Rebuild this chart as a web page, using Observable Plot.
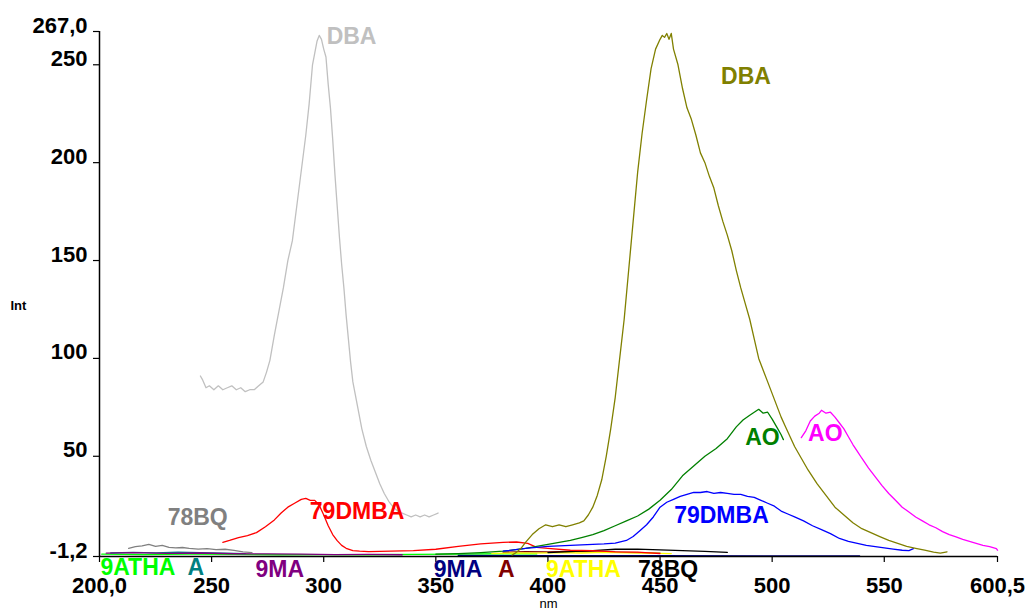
<!DOCTYPE html>
<html><head><meta charset="utf-8">
<script src="https://cdn.jsdelivr.net/npm/d3@7"></script>
<script src="https://cdn.jsdelivr.net/npm/@observablehq/plot@0.6"></script>
<style>body{margin:0;background:#fff} #chart svg{display:block}</style>
</head><body><div id="chart"></div>
<script>
// Axis ticks
const xTicks = [200, 250, 300, 350, 400, 450, 500, 550, 600.5];
const xTickLabels = ["200,0", "250", "300", "350", "400", "450", "500", "550", "600,5"];
const yTicks = [-1.2, 50, 100, 150, 200, 250, 267];
const yTickLabels = ["-1,2", "50", "100", "150", "200", "250", "267,0"];

// DBA excitation (light grey)
const dbaExX = [245,246,247.5,249,251,253,255,257,259,261,263,265,267,269,271,273,274.5,276,278,280,282,284,286,288,290,292,293.5,295,296,297,298,299,300,301,302,303,304,305,306,307,308,309,310,311,312,313,314,315,317,319,321,323,325,327,329,331,333,335,337,339,341,343,345,347,349,351];
const dbaExY = [91,89,85,86,84,86,84,85,86,84,85,83,84,84,86,88,93,99,112,124,136,150,160,178,196,214,230,250,256,262,265,263,258,254,240,228,212,194,178,162,148,136,122,110,98,88,82,76,64,55,48,42,36,31,27,24,22,21,20,19,20,19,20,19,20,21];
// DBA emission (olive)
const dbaEmX = [384,386,388,390,393,396,399,402,405,408,411,414,416,418,420,422,424,426,428,430,432,434,436,438,440,442,444,446,448,450,451,452,453,454,455,456,458,460,462,464,466,468,470,472,474,476,478,480,482,484,486,488,490,492,494,496,498,500,502,504,506,508,510,513,516,520,524,528,532,536,540,544,548,552,556,560,564,568,572,575,578];
const dbaEmY = [-0.5,1,3,6,10,13,15,14,15,14,15,16,17,20,24,30,38,50,64,80,100,120,145,170,195,215,232,248,258,263,265,264,266,263,266,258,250,238,228,222,214,205,200,193,187,178,170,163,155,145,136,128,120,110,100,94,88,82,76,70,65,60,55,49,43,36,30,24,20,16,13,11,9,7,5.5,4,3,2,1,0.5,1.2];
// AO excitation (green)
const aoExX = [350,360,370,380,390,400,410,415,420,425,430,435,440,445,450,455,460,465,470,475,480,484,487,490,492,494,496,498,500,502,504,505];
const aoExY = [0,0.3,0.8,1.5,3,5,7,8.5,10,12,14.5,17,19.5,23,27.5,33,40,45,50,54,59,65,68.5,71,72.5,74,72,72.5,69,65,61,58.5];
// AO emission (magenta)
const aoEmX = [513,515,517,519,521,522,524,526,528,530,532,534,536,538,540,543,546,549,552,555,558,561,564,567,570,573,576,579,582,585,588,591,594,597,600,600.5];
const aoEmY = [59.5,63,68,70.5,72,73.5,72,72.5,70,67,64,60,56,52.5,49,44,39.5,35,31,27.5,24,21.5,19,17,15,13.5,11.5,10,8.8,7.5,6.5,5.5,4.5,3.8,2.8,2];
// 79DMBA emission (blue)
const dmbaEmX = [380,390,400,410,420,425,430,435,438,441,444,447,450,453,456,459,462,465,468,471,474,477,480,483,486,489,492,495,498,501,504,507,510,514,518,522,526,530,534,538,542,546,550,554,558,561,563];
const dmbaEmY = [1.5,3,4,4.5,5,5.2,5.6,7,9,12,15,19,24,26.5,28,29.5,30.5,31.5,31.5,32,31,31.5,31,30.5,30.5,29.5,29,27.5,26,24.5,22,20.5,19,17,14.5,12.5,10.5,8,6.5,5.5,4.5,3.8,3.2,2.6,2,1.8,2.8];
// 79DMBA excitation (red)
const dmbaExX = [255,258,262,266,270,274,278,281,284,287,290,292,294,296,298,300,302,304,306,308,310,313,316,320,330,340,350,360,370,380,386,391,395,400,410,420,430,440,450];
const dmbaExY = [6,7,8.5,9.5,11,14,17.5,21,24,26,28,28.5,27.5,27.5,25,20,14.5,10,6.9,4.5,3,1.8,1.5,1.3,1.5,1.8,2.5,4,5.2,6,6.2,5.5,3.5,3,2,1.8,1.2,1,0.3];
// 78BQ excitation (grey) and emission (black)
const bqExX = [213,216,219,222,225,228,231,234,237,240,244,248,252,256,260,264,268];
const bqExY = [3,3.8,4.2,5,4,4.5,3.5,3.2,3.4,3,2.6,2.8,2.3,2.5,1.9,1.2,0.8];
const bqEmX = [400,410,420,430,440,450,460,470,480];
const bqEmY = [0.8,1.3,1.8,2.5,2.6,2.2,1.8,1.4,0.9];
// 9MA excitation (purple) and emission (navy)
const maExX = [203,215,230,245,260,275,290,305,320,335];
const maExY = [0.5,0.8,0.4,0.6,0.2,0.1,0,-0.2,-0.1,-0.3];
const maEmX = [360,400,450,500,539];
const maEmY = [-0.7,-0.8,-0.8,-0.9,-0.9];
// A excitation (teal) and emission (maroon)
const aExX = [205,215,225,235,245,255,265];
const aExY = [0.6,0.9,0.7,1.0,0.8,0.5,0.3];
const aEmX = [380,390,400,410,420,430,440,450];
const aEmY = [1.0,1.3,1.1,1.4,1.2,1.0,0.8,0.5];
// 9ATHA excitation (bright green) and emission (yellow)
const athaExX = [201,220,240,260,280,300,320,340,360,380,395];
const athaExY = [0,-0.2,0,-0.1,-0.3,-0.2,-0.3,-0.1,0,0.2,0.1];
const athaEmX = [375,385,395,405,415,425,435,445,455];
const athaEmY = [0.4,0.6,0.5,0.8,0.6,0.9,0.7,0.5,0.3];

// Series labels (text, x, y in data units)
const labelTexts = ["DBA","DBA","AO","AO","79DMBA","79DMBA","78BQ","9ATHA","A","9MA","9MA","A","9ATHA","78BQ"];
const labelX = [301.3,477.2,488,516,456.3,293.8,230.4,200.4,239.3,269.6,349.1,377.7,399.1,440.2];
const labelY = [264.4,244,59.5,61.6,19.7,21.7,18.7,-6.9,-6.9,-7.9,-7.9,-7.9,-7.9,-7.9];
const labelColors = ["#c0c0c0","#808000","#008000","#ff00ff","#0000ff","#ff0000","#808080","#00ff00","#008080","#800080","#000080","#800000","#ffff00","#000000"];

const zip = (xs, ys) => xs.map((x, i) => ({x, y: ys[i]}));
const seriesList = [
  [athaExX, athaExY, "#00ff00"],
  [aExX, aExY, "#008080"],
  [maExX, maExY, "#800080"],
  [maEmX, maEmY, "#000080"],
  [aEmX, aEmY, "#800000"],
  [athaEmX, athaEmY, "#ffff00"],
  [bqEmX, bqEmY, "#000000"],
  [bqExX, bqExY, "#808080"],
  [dbaExX, dbaExY, "#c0c0c0"],
  [dmbaExX, dmbaExY, "#ff0000"],
  [aoExX, aoExY, "#008000"],
  [dmbaEmX, dmbaEmY, "#0000ff"],
  [dbaEmX, dbaEmY, "#808000"],
  [aoEmX, aoEmY, "#ff00ff"]
];
const labels = labelTexts.map((t, i) => ({text: t, x: labelX[i], y: labelY[i], color: labelColors[i]}));

const fmtX = d => xTickLabels[xTicks.indexOf(d)];
const fmtY = d => yTickLabels[yTicks.indexOf(d)];

const plot = Plot.plot({
  width: 1027, height: 614,
  marginLeft: 99, marginRight: 30, marginTop: 31, marginBottom: 58,
  x: {domain: [200, 600.5]},
  y: {domain: [-1.2, 267]},
  style: {fontFamily: "'Liberation Sans', Arial, sans-serif", background: "#fff", color: "#000"},
  marks: [
    Plot.axisX({ticks: xTicks, tickFormat: fmtX, tickSize: 6, tickPadding: 15, fontSize: 22, fontWeight: "bold", label: null, strokeWidth: 1.2}),
    Plot.axisY({ticks: yTicks, text: null, tickSize: 6, label: null, strokeWidth: 1.2}),
    Plot.axisY({ticks: yTicks, tickFormat: fmtY, tickSize: 0, tickPadding: 12, dy: -6, fontSize: 22, fontWeight: "bold", label: null}),
    Plot.ruleX([200], {strokeWidth: 1.5}),
    ...seriesList.map(([xs, ys, c]) => Plot.line(zip(xs, ys), {x: "x", y: "y", stroke: c, strokeWidth: 1.3})),
    Plot.ruleY([-1.2], {strokeWidth: 1.5}),
    Plot.text(labels, {x: "x", y: "y", text: "text", fill: "color", textAnchor: "start", fontSize: 23, fontWeight: "bold"}),
    Plot.text(["nm"], {frameAnchor: "bottom", dy: 51, fontSize: 13}),
    Plot.text(["Int"], {frameAnchor: "left", dx: -89, dy: 11.5, textAnchor: "start", fontSize: 13, fontWeight: "bold"})
  ]
});
document.getElementById("chart").appendChild(plot);
</script>
</body></html>
